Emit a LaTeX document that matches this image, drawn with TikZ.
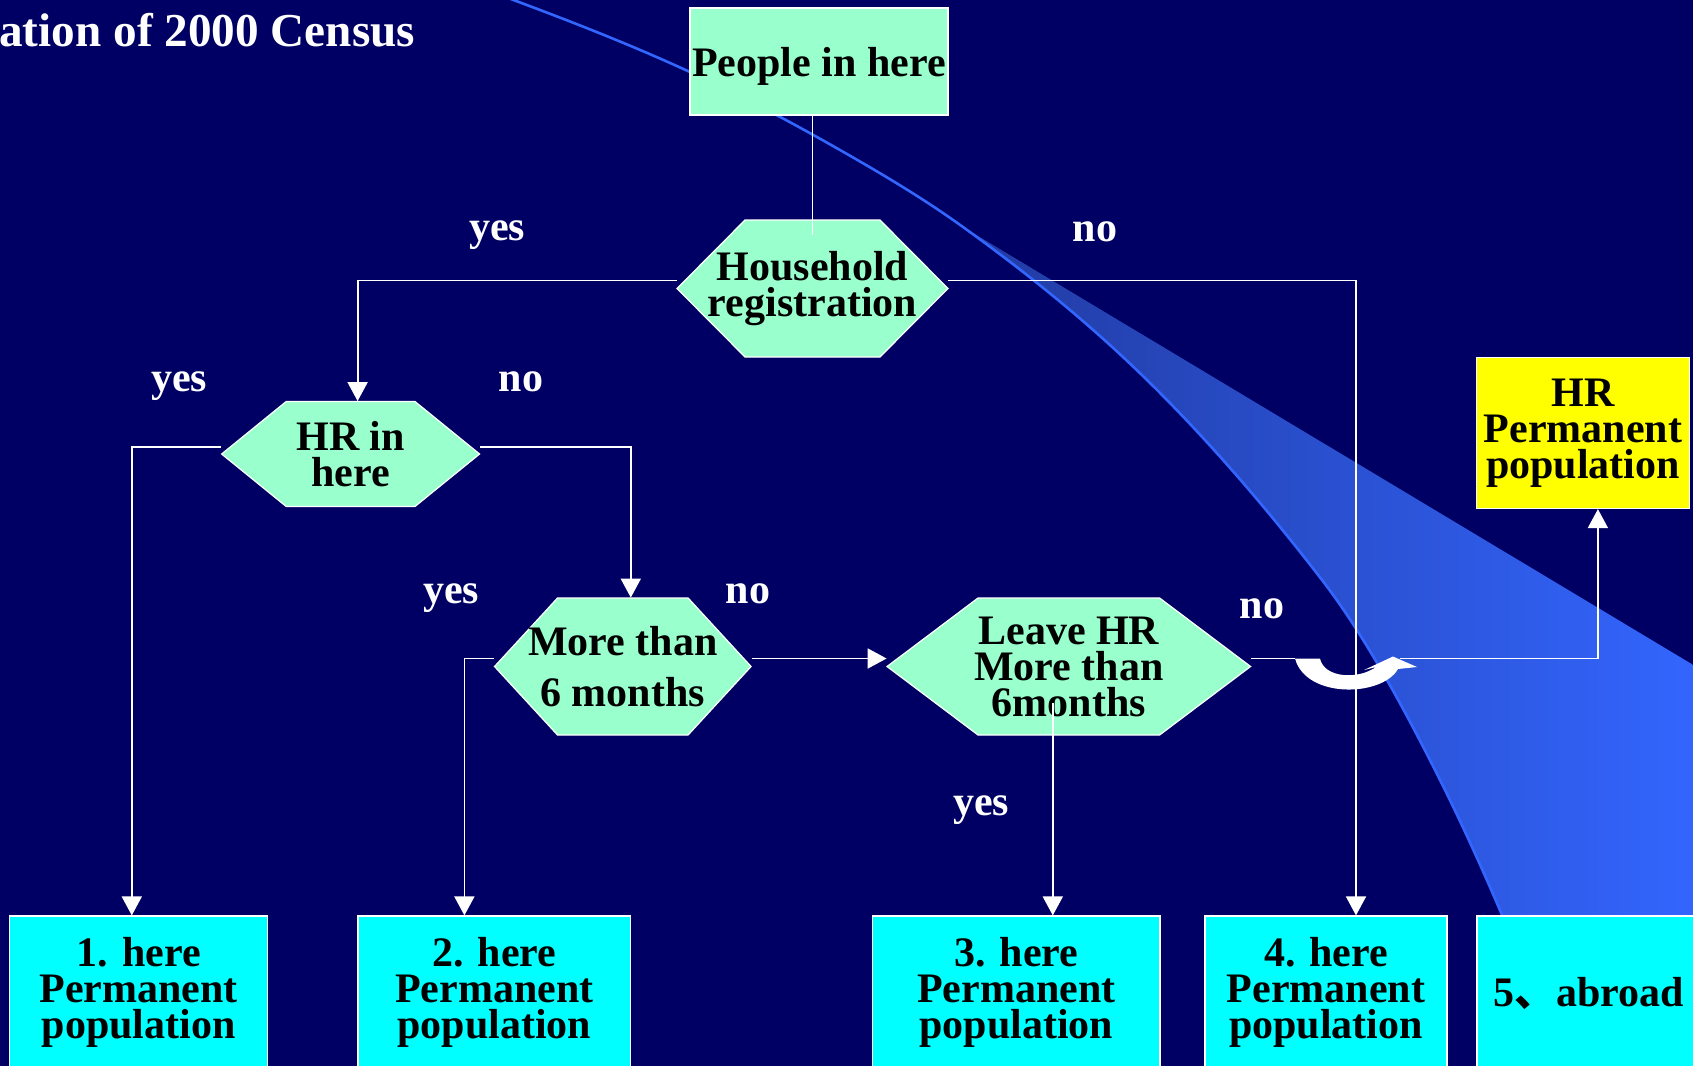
\documentclass[tikz,border=0pt]{standalone}
\usepackage{fontspec}
\setmainfont{Liberation Serif}
\newfontfamily\cjk{Noto Sans CJK SC}
\usetikzlibrary{arrows.meta,calc}

\definecolor{bgnavy}{RGB}{0,0,100}
\definecolor{mint}{RGB}{153,255,204}
\definecolor{cyanbox}{RGB}{0,255,255}
\definecolor{yellowbox}{RGB}{255,255,0}
\definecolor{swooshline}{RGB}{51,102,255}
\definecolor{swooshdark}{RGB}{33,58,160}
\definecolor{swooshlight}{RGB}{51,102,255}

\newcommand\flowfont{\fontsize{21pt}{18pt}\selectfont\bfseries}
\newcommand\yesnofont{\fontsize{21pt}{18pt}\selectfont\bfseries}
\newcommand\censustitlefont{\fontsize{23.6pt}{28pt}\selectfont\bfseries}

% #1 name, #2 cx, #3 cy, #4 half width, #5 half height, #6 inset, #7 text
\newcommand\hexnode[7]{%
  \filldraw[hexshape] (#2-#4,#3) -- (#2-#4+#6,#3-#5) -- (#2+#4-#6,#3-#5) -- (#2+#4,#3)
     -- (#2+#4-#6,#3+#5) -- (#2-#4+#6,#3+#5) -- cycle;
  \node[hextext, minimum width=#4pt, minimum height=#5pt] (#1) at (#2,#3) {#7};}

\tikzset{
  rectnode/.style={draw=white, line width=0.6pt, inner sep=0pt, align=center, text=black, font=\flowfont},
  hexshape/.style={fill=mint, draw=white, line width=0.6pt},
  hextext/.style={inner sep=0pt, align=center, text=black, font=\flowfont},
  conn/.style={draw=white, line width=0.9pt},
  arr/.style={conn, -{Triangle[length=9.5pt,width=10pt]}},
  lbl/.style={text=white, font=\yesnofont, inner sep=0pt, anchor=base},
}

\begin{document}
\begin{tikzpicture}[x=0.5pt,y=-0.5pt]
\useasboundingbox (0,0) rectangle (1693,1066);
\clip (0,0) rectangle (1693,1066);
\fill[bgnavy] (0,0) rectangle (1693,1066);

% blue swoosh
\begin{scope}
  \clip (963,227) -- (1700,669) -- (1700,1110) -- (963,1110) -- cycle;
  \clip (500,-5) .. controls (563.3,18.4) and (626.7,42.9) .. (690,72)
        .. controls (740,95) and (790,121.5) .. (840,150)
        .. controls (881,173.4) and (922,197.5) .. (963,227)
        .. controls (1024.3,271.2) and (1085.7,319.9) .. (1147,380)
        .. controls (1205.3,437.2) and (1263.7,504.2) .. (1322,580)
        .. controls (1361.3,631.1) and (1400.7,701.3) .. (1440,780)
        .. controls (1460.7,821.3) and (1481.3,866.4) .. (1502,915)
        .. controls (1521.3,960.4) and (1540.7,1012) .. (1560,1066)
        -- (1575,1110) -- (1700,1110) -- (1700,-5) -- cycle;
  \shade[left color=swooshdark, right color=swooshlight] (963,200) rectangle (1700,1110);
\end{scope}
\draw[swooshline, line width=1.3pt] (500,-5) .. controls (563.3,18.4) and (626.7,42.9) .. (690,72)
        .. controls (740,95) and (790,121.5) .. (840,150)
        .. controls (881,173.4) and (922,197.5) .. (963,227)
        .. controls (1024.3,271.2) and (1085.7,319.9) .. (1147,380)
        .. controls (1205.3,437.2) and (1263.7,504.2) .. (1322,580)
        .. controls (1361.3,631.1) and (1400.7,701.3) .. (1440,780)
        .. controls (1460.7,821.3) and (1481.3,866.4) .. (1502,915)
        .. controls (1521.3,960.4) and (1540.7,1012) .. (1560,1066)
        -- (1575,1110);

% title
\node[anchor=base west, inner sep=0pt, text=white, font=\censustitlefont] (title) at (-1,46.7) {ation of 2000 Census};

% rectangles
\node[rectnode, fill=mint, minimum width=129pt, minimum height=53.5pt, text height=15.2pt, text depth=0pt] (people) at (819,61.5) {People in here};
\node[rectnode, fill=yellowbox, minimum width=106.2pt, minimum height=75.5pt] (hrp) at (1582.9,433) {HR\\Permanent\\population};
\node[rectnode, fill=cyanbox, minimum width=129pt, minimum height=76pt] (box1) at (138.8,992) {1. here\\Permanent\\population};
\node[rectnode, fill=cyanbox, minimum width=136.4pt, minimum height=76pt] (box2) at (494.4,992) {2. here\\Permanent\\population};
\node[rectnode, fill=cyanbox, minimum width=143.7pt, minimum height=76pt] (box3) at (1016.3,992) {3. here\\Permanent\\population};
\node[rectnode, fill=cyanbox, minimum width=121pt, minimum height=76pt] (box4) at (1326,992) {4. here\\Permanent\\population};
\node[rectnode, fill=cyanbox, minimum width=111.5pt, minimum height=76pt, text height=14.6pt, text depth=0pt] (box5) at (1588.5,992) {5{\cjk 、}abroad};

% hexagons
\hexnode{hh}{812.5}{288.5}{135.5}{68.5}{68}{Household\\registration}
\hexnode{hr}{350.6}{454}{129}{52.5}{64.6}{HR in\\here}
\hexnode{mt}{622.8}{666.5}{128.3}{68.5}{63}{More than\\[7.5pt]6 months}
\hexnode{lv}{1068.8}{666.5}{181.8}{68.5}{91}{Leave HR\\More than\\6months}

% connectors
\draw[conn] (hh.north |- people.south) -- ($(hh.north)+(0,15)$);
\draw[arr] ($(hh.west)+(0,-8)$) -| ($(hr.north)+(7,0)$);
\draw[arr] ($(hh.east)+(0,-8)$) -| ($(box4.north)+(30,0)$);
\draw[arr] ($(hr.west)+(0,-7)$) -| ($(box1.north)+(-7,0)$);
\draw[arr] ($(hr.east)+(0,-7)$) -| ($(mt.north)+(8,0)$);
\draw[arr] ($(mt.west)+(0,-8)$) -| ($(box2.north)+(-30,0)$);
\draw[arr] ($(mt.east)+(0,-8)$) -- ($(lv.west)+(0,-8)$);
\coordinate (lvs) at ($(lv.south)+(-16,-32)$);
\draw[arr] (lvs) -- (lvs |- box3.north);

% no branch with hop over the vertical line
\coordinate (hopA) at (1295,658.5);
\coordinate (hopB) at (1400,658.5);
\draw[conn] ($(lv.east)+(0,-8)$) -- (hopA);
\fill[white] (hopA) -- (1320,658.5) .. controls (1324,678) and (1358,680) .. (1376,667)
  -- (1364,670) -- (1393,656.5) -- (1417,667) -- (1398,669)
  .. controls (1382,697) and (1306,699) .. (hopA) -- cycle;
\draw[arr] (hopB) -| ($(hrp.south)+(15,0)$);

% labels
\node[lbl] (yes1) at (497,240) {yes};
\node[lbl] (no1) at (1095,241) {no};
\node[lbl] (yes2) at (179,391) {yes};
\node[lbl] (no2) at (521,391) {no};
\node[lbl] (yes3) at (451,603) {yes};
\node[lbl] (no3) at (748,603) {no};
\node[lbl] (no4) at (1262,618) {no};
\node[lbl] (yes4) at (981,815) {yes};
\end{tikzpicture}
\end{document}
